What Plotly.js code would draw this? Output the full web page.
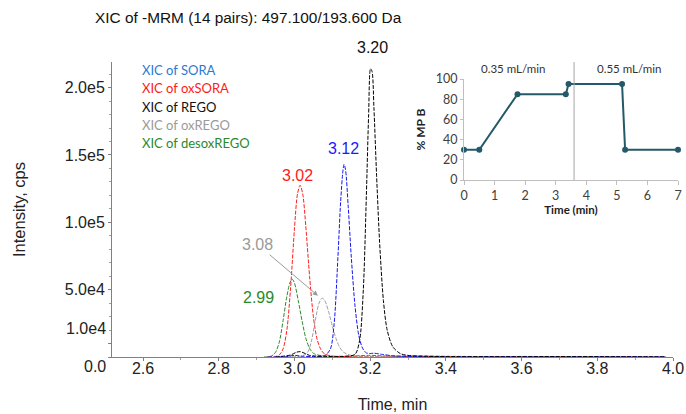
<!DOCTYPE html>
<html>
<head>
<meta charset="utf-8">
<script src="https://cdn.plot.ly/plotly-3.0.1.min.js"></script>
<style>html,body{margin:0;padding:0;background:#fff;}#chart{width:686px;height:414px;}</style>
</head>
<body>
<div id="chart"></div>
<script>
// ---- Main chromatogram data (time in min, intensity in cps) ----
const soraTime = [2.93, 2.98, 3.00, 3.02, 3.05, 3.08, 3.095, 3.105, 3.115, 3.122, 3.128, 3.131, 3.135, 3.142, 3.15, 3.16, 3.17, 3.18, 3.19, 3.20, 3.21, 3.23, 3.26, 3.30, 3.40, 3.55, 3.70, 3.85, 3.98];
const soraInt  = [0, 300, 1200, 600, 400, 1000, 6000, 25000, 75000, 115000, 138000, 143000, 139000, 112000, 75000, 38000, 16000, 6500, 3000, 2600, 2800, 2000, 900, 400, 200, 300, 200, 300, 100];

const oxSoraTime = [2.93, 2.95, 2.96, 2.97, 2.98, 2.99, 3.00, 3.008, 3.015, 3.022, 3.03, 3.04, 3.05, 3.06, 3.07, 3.08, 3.10, 3.13, 3.20, 3.30, 3.45, 3.60, 3.75, 3.90, 3.98];
const oxSoraInt  = [0, 300, 1500, 6000, 20000, 52000, 95000, 121000, 127500, 121000, 97000, 60000, 30000, 13000, 5500, 2200, 700, 300, 200, 300, 200, 400, 200, 300, 100];

const regoTime = [2.95, 2.99, 3.005, 3.015, 3.025, 3.04, 3.08, 3.13, 3.16, 3.172, 3.182, 3.19, 3.196, 3.201, 3.205, 3.21, 3.217, 3.225, 3.235, 3.245, 3.26, 3.28, 3.30, 3.34, 3.40, 3.55, 3.70, 3.85, 3.98];
const regoInt  = [0, 1500, 3500, 4000, 3000, 1200, 500, 400, 2000, 12000, 50000, 120000, 180000, 214000, 212000, 185000, 135000, 85000, 42000, 20000, 7500, 2500, 1200, 600, 300, 200, 300, 200, 100];

const oxRegoTime = [2.95, 3.00, 3.02, 3.035, 3.045, 3.055, 3.065, 3.073, 3.08, 3.09, 3.10, 3.11, 3.12, 3.13, 3.15, 3.18, 3.22, 3.28, 3.33, 3.40, 3.50, 3.65, 3.80, 3.98];
const oxRegoInt  = [0, 300, 700, 3500, 12000, 27000, 40000, 43700, 42000, 34000, 23000, 13500, 7000, 3500, 1200, 600, 500, 800, 1000, 600, 300, 200, 300, 100];

const desoxRegoTime = [2.92, 2.94, 2.95, 2.96, 2.97, 2.98, 2.988, 2.994, 3.00, 3.01, 3.02, 3.03, 3.04, 3.05, 3.07, 3.10, 3.15, 3.20, 3.25, 3.35, 3.50, 3.65, 3.80, 3.98];
const desoxRegoInt  = [0, 800, 3500, 11000, 27000, 45000, 55000, 57800, 55000, 42000, 27000, 14000, 6500, 2800, 1000, 500, 700, 1200, 600, 300, 300, 200, 300, 100];

const seriesNames = ["XIC of SORA", "XIC of oxSORA", "XIC of REGO", "XIC of oxREGO", "XIC of desoxREGO"];
const peakLabels = ["3.12", "3.02", "3.20", "3.08", "2.99"];

const xTickVals = [2.6, 2.8, 3.0, 3.2, 3.4, 3.6, 3.8, 4.0];
const xTickText = ["2.6", "2.8", "3.0", "3.2", "3.4", "3.6", "3.8", "4.0"];
const yTickVals = [0, 10000, 50000, 100000, 150000, 200000];
const yTickText = ["0.0", "1.0e4", "5.0e4", "1.0e5", "1.5e5", "2.0e5"];

// ---- Inset gradient program ----
const gradTime = [0, 0.5, 1.75, 3.33, 3.42, 5.17, 5.27, 7];
const gradB    = [30, 30, 85, 85, 95, 95, 30, 30];
const flowLabels = ["0.35 mL/min", "0.55 mL/min"];
const flowSwitchTime = 3.6;

// ---- styling ----
const lineColors = ["#1515f0", "#ff2020", "#000000", "#a0a0a0", "#2e8b2e"];
const textColors = ["#2a7ad2", "#ff1a1a", "#111111", "#9a9a9a", "#2a8a2a"];
const W = 686, H = 414;
const px = v => v / W, py = v => 1 - v / H;

const seriesT = [soraTime, oxSoraTime, regoTime, oxRegoTime, desoxRegoTime];
const seriesI = [soraInt, oxSoraInt, regoInt, oxRegoInt, desoxRegoInt];
const drawOrder = [4, 1, 3, 0, 2];

const traces = drawOrder.map(i => ({
  x: seriesT[i], y: seriesI[i], type: "scatter", mode: "lines",
  name: seriesNames[i], line: {color: lineColors[i], width: 1, dash: "4px,1.5px", shape: "spline", smoothing: 0.8},
  xaxis: "x", yaxis: "y", hoverinfo: "skip"
}));

traces.push({
  x: gradTime, y: gradB, type: "scatter", mode: "lines+markers",
  line: {color: "#24596a", width: 2}, marker: {color: "#24596a", size: 6},
  xaxis: "x2", yaxis: "y2", cliponaxis: false, hoverinfo: "skip"
});

const tickFont = {size: 16, color: "#222"};
const annotations = [];
const legendY = [70, 88, 107, 125, 143];
seriesNames.forEach((n, i) => annotations.push({
  xref: "paper", yref: "paper", x: px(140), y: py(legendY[i]), xanchor: "left", yanchor: "middle",
  text: n, showarrow: false, font: {family: "Lato, 'Open Sans', sans-serif", size: 13, color: textColors[i]}
}));
const peakPos = [[343, 148], [297, 175], [372, 47]];
const peakColor = ["#1a1aff", "#ff1a1a", "#111111"];
peakPos.forEach((p, i) => annotations.push({
  xref: "paper", yref: "paper", x: px(p[0]), y: py(p[1]), xanchor: "center", yanchor: "middle",
  text: peakLabels[i], showarrow: false, font: {size: 16, color: peakColor[i]}
}));
annotations.push({
  xref: "paper", yref: "paper", x: px(258), y: py(297), xanchor: "center", yanchor: "middle",
  text: peakLabels[4], showarrow: false, font: {size: 16, color: "#2a8a2a"}
});
annotations.push({
  xref: "x", yref: "y", x: 3.062, y: 45500, ax: -60, ay: -51, axref: "pixel", ayref: "pixel",
  text: peakLabels[3], showarrow: true, arrowhead: 2, arrowsize: 1, arrowwidth: 1, arrowcolor: "#999",
  font: {size: 16, color: "#9a9a9a"}, standoff: 0, startstandoff: 0
});
// the two lowest y labels sit where the reference shows them (nudged apart)
annotations.push({xref: "paper", yref: "paper", x: px(108), y: py(366), xanchor: "right", yanchor: "middle",
  text: yTickText[0], showarrow: false, font: tickFont});
annotations.push({xref: "paper", yref: "paper", x: px(108), y: py(328), xanchor: "right", yanchor: "middle",
  text: yTickText[1], showarrow: false, font: tickFont});
annotations.push({xref: "paper", yref: "paper", x: px(513), y: py(69), xanchor: "center", yanchor: "middle",
  text: flowLabels[0], showarrow: false, font: {family: "Lato, sans-serif", size: 11.5, color: "#333"}});
annotations.push({xref: "paper", yref: "paper", x: px(629), y: py(69), xanchor: "center", yanchor: "middle",
  text: flowLabels[1], showarrow: false, font: {family: "Lato, sans-serif", size: 11.5, color: "#333"}});

const layout = {
  width: W, height: H, margin: {l: 0, r: 0, t: 0, b: 0},
  paper_bgcolor: "#fff", plot_bgcolor: "rgba(0,0,0,0)", showlegend: false,
  font: {family: "'Liberation Sans', Arial, sans-serif", color: "#111"},
  title: {text: "XIC of -MRM (14 pairs): 497.100/193.600 Da", font: {size: 15.4, color: "#111"},
    x: px(95), xanchor: "left", xref: "container", y: py(18), yanchor: "middle", yref: "container"},
  xaxis: {
    domain: [px(112), px(673)], range: [2.5181, 4.0], anchor: "y",
    tickmode: "array", tickvals: xTickVals, ticktext: xTickText,
    ticks: "outside", ticklen: 3, tickcolor: "#808080", ticklabelstandoff: -6,
    minor: {ticks: "outside", ticklen: 2, dtick: 0.1, tick0: 2.5, tickcolor: "#a0a0a0"},
    showline: true, linecolor: "#808080", linewidth: 1, showgrid: false, zeroline: false,
    tickfont: tickFont,
    title: {text: "Time, min", font: {size: 16, color: "#222"}, standoff: 22}
  },
  yaxis: {
    domain: [py(357), py(62)], range: [0, 219000], anchor: "x",
    tickmode: "array", tickvals: yTickVals, ticktext: ["", "", ...yTickText.slice(2)],
    ticks: "outside", ticklen: 3, tickcolor: "#808080",
    minor: {ticks: "outside", ticklen: 2, dtick: 10000, tick0: 0, tickcolor: "#a0a0a0"},
    showline: true, linecolor: "#808080", linewidth: 1, showgrid: false, zeroline: false,
    tickfont: tickFont,
    title: {text: "Intensity, cps", font: {size: 16.5, color: "#222"}, standoff: 34}
  },
  xaxis2: {
    domain: [px(464), px(678)], range: [0, 7], anchor: "y2", dtick: 1, tick0: 0,
    ticks: "outside", ticklen: 4, tickcolor: "#bfbfbf",
    showline: true, linecolor: "#bfbfbf", showgrid: false, zeroline: false,
    tickfont: {family: "Lato, sans-serif", size: 12.5, color: "#404040"},
    title: {text: "<b>Time (min)</b>", font: {family: "Lato, sans-serif", size: 11.5, color: "#222"}, standoff: 3}
  },
  yaxis2: {
    domain: [py(180), py(79)], range: [0, 100], anchor: "x2", dtick: 20, tick0: 0,
    ticks: "outside", ticklen: 3, tickcolor: "#bfbfbf",
    showline: true, linecolor: "#bfbfbf", showgrid: false, zeroline: false,
    tickfont: {family: "Lato, sans-serif", size: 12.5, color: "#404040"},
    title: {text: "<b>% MP B</b>", font: {family: "Lato, sans-serif", size: 12, color: "#222"}, standoff: 7}
  },
  shapes: [{type: "line", xref: "x2", yref: "paper", x0: flowSwitchTime, x1: flowSwitchTime,
    y0: py(180), y1: py(62), line: {color: "#a6a6a6", width: 1}}],
  annotations: annotations
};

Plotly.newPlot("chart", traces, layout, {displayModeBar: false, staticPlot: true});
</script>
</body>
</html>
